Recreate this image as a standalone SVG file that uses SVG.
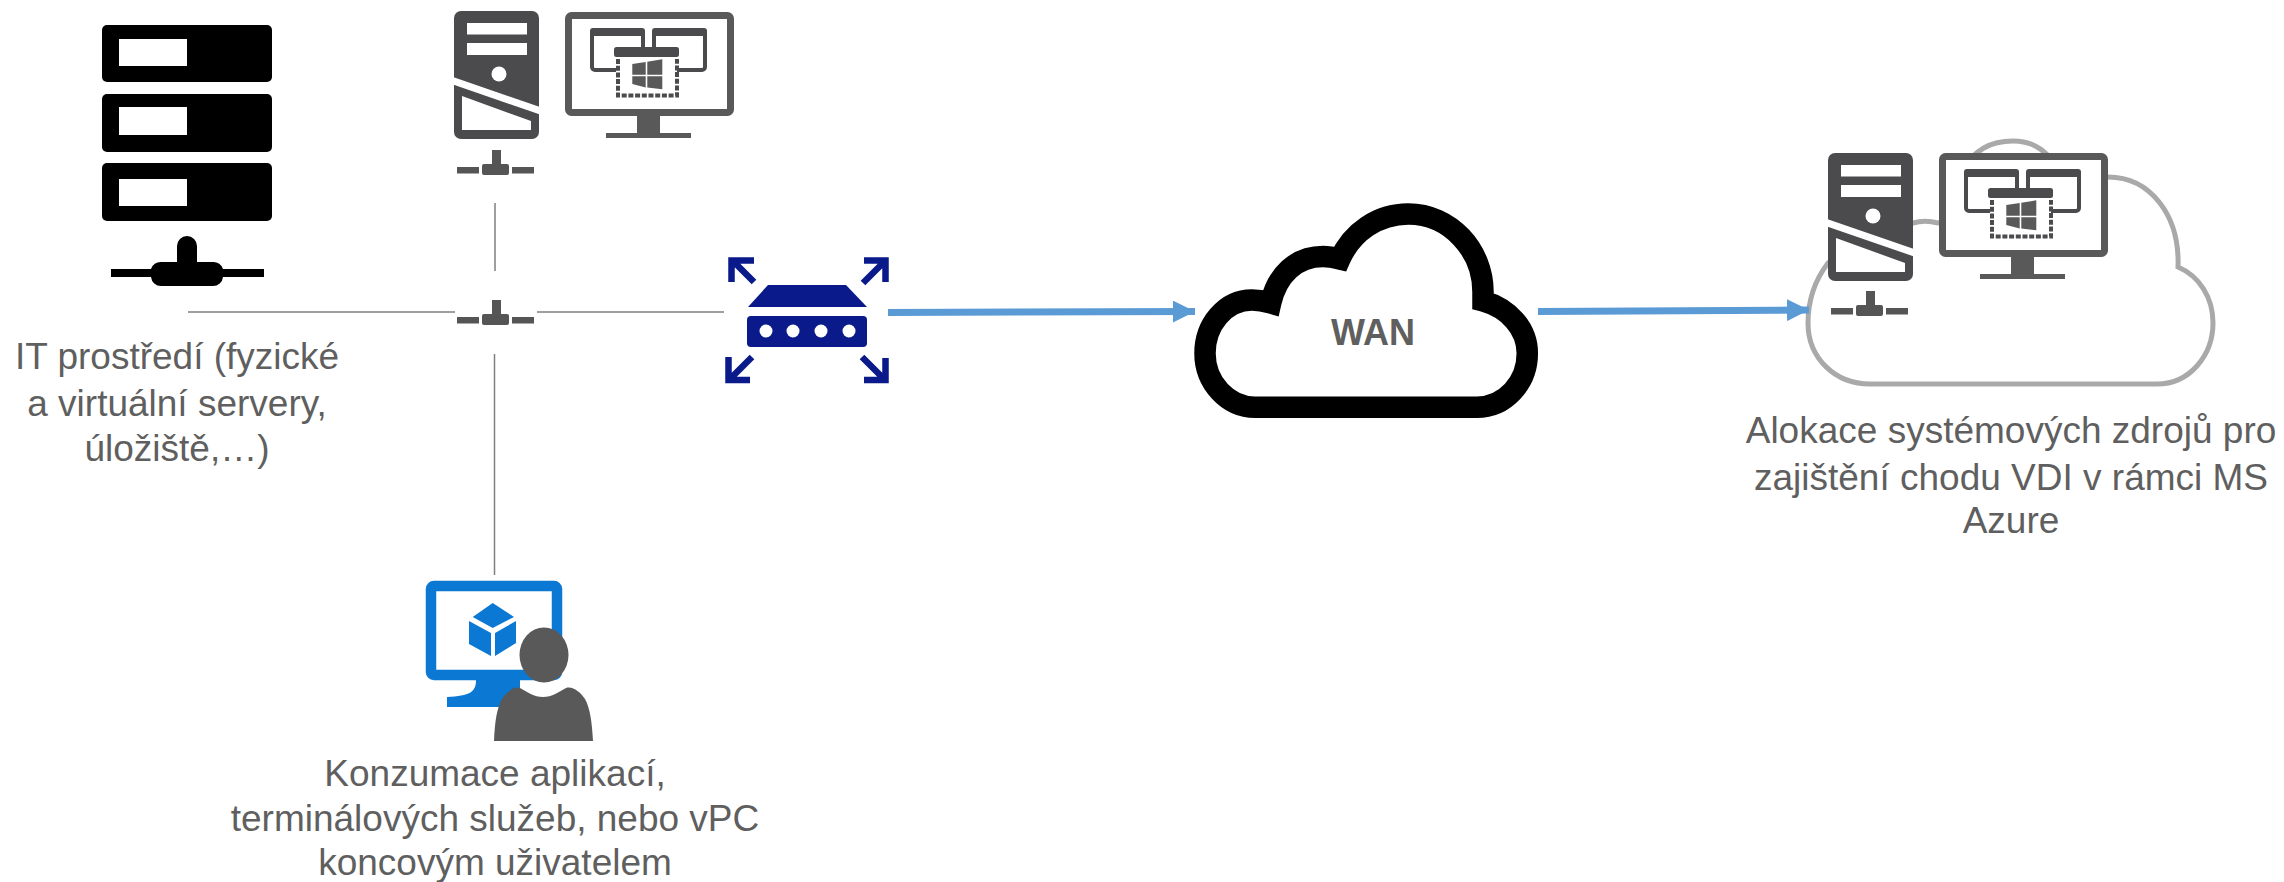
<svg xmlns="http://www.w3.org/2000/svg" width="2284" height="882" viewBox="0 0 2284 882">
<style>
text{font-family:"Liberation Sans",Arial,sans-serif;font-size:37px;fill:#5f5f5f;text-anchor:middle}
.wire{stroke:#7f7f7f;stroke-width:1.5;fill:none}
.blue{stroke:#5b9bd5;stroke-width:7;fill:none;marker-end:url(#ah)}
.rack{fill:#000}
.hole{fill:#fff}
.tw{fill:#4b4b4e}
.mon{fill:#595959}
.rt{fill:#0a1a8a}
.rta{stroke:#0a1a8a;stroke-width:6.5;fill:none}
.az{fill:#0b78d4}
</style>
<defs>
<marker id="ah" markerUnits="userSpaceOnUse" markerWidth="22" markerHeight="22" refX="22" refY="11" orient="auto"><path d="M0 0L22 11L0 22Z" fill="#5b9bd5"/></marker>
<filter id="soft" x="-10%" y="-10%" width="120%" height="120%"><feGaussianBlur stdDeviation="0.7"/></filter>
<g id="tee" filter="url(#soft)" fill="#555"><rect x="492" y="150" width="9" height="16"/><rect x="482" y="164" width="27" height="11" rx="2"/><rect x="457" y="167" width="22" height="6.5"/><rect x="512" y="167" width="22" height="6.5"/></g>
<g id="tower"><rect class="tw" x="454" y="11" width="85" height="128" rx="7"/><rect class="hole" x="467" y="23" width="60" height="11.5"/><rect class="hole" x="467" y="43" width="60" height="12"/><circle class="hole" cx="499" cy="74" r="7.5"/><path class="hole" d="M453 77L540 107V114.500L453 84.500Z"/><path class="hole" d="M462 96L531 121V130H462Z"/></g>
<g id="display"><rect x="568.500" y="15.500" width="162" height="97" rx="3" fill="#fff" stroke="#595959" stroke-width="7"/><rect class="mon" x="637" y="114" width="23" height="20"/><rect class="mon" x="606" y="133" width="85" height="5"/><rect x="592" y="30" width="51" height="40" rx="3" fill="#fff" stroke="#4b4b4e" stroke-width="4"/><rect x="654" y="30" width="51" height="40" rx="3" fill="#fff" stroke="#4b4b4e" stroke-width="4"/><rect class="tw" x="590" y="28" width="55" height="8" rx="3"/><rect class="tw" x="652" y="28" width="55" height="8" rx="3"/><rect x="616" y="56" width="61" height="41" fill="#fff"/><rect class="tw" x="614" y="47" width="65" height="10" rx="2.500"/><path d="M618 59V95.500H677V59" fill="none" stroke="#4b4b4e" stroke-width="4" stroke-dasharray="5 1.700"/><path class="mon" d="M632.300 64L645.700 62V74.700H632.300ZM647.300 61.700L662.300 59.300V74.700H647.300ZM632.300 76.300H645.700V87.500L632.300 84ZM647.300 76.300H662.300V89.300L647.300 87.500Z"/></g>
</defs>
<g id="it-servers">
<rect class="rack" x="102" y="25" width="170" height="57" rx="5"/><rect class="hole" x="119" y="39" width="68" height="27"/>
<rect class="rack" x="102" y="94" width="170" height="58" rx="5"/><rect class="hole" x="119" y="107" width="68" height="28"/>
<rect class="rack" x="102" y="163" width="170" height="58" rx="5"/><rect class="hole" x="119" y="179" width="68" height="27"/>
<path class="rack" d="M177 246a10 10 0 0 1 20 0V262H213a10 10 0 0 1 10 7H264V277H223a10 10 0 0 1-10 9H161a10 10 0 0 1-10-9H111V269H151a10 10 0 0 1 10-7H177Z"/>
<text x="177" y="369">IT prostředí (fyzické</text>
<text x="177" y="416">a virtuální servery,</text>
<text x="177" y="461">úložiště,…)</text>
</g>
<g id="onprem-vdi"><use href="#tower"/><use href="#display"/><use href="#tee"/></g>
<g id="switch-tee"><use href="#tee" y="150"/></g>
<g id="router">
<path class="rt" d="M768 285H846L867 307H748Z"/>
<rect class="rt" x="747" y="316" width="120" height="31" rx="4"/>
<circle class="hole" cx="766" cy="331" r="6.500"/><circle class="hole" cx="793" cy="331" r="6.500"/><circle class="hole" cx="821" cy="331" r="6.500"/><circle class="hole" cx="849" cy="331" r="6.500"/>
<path class="rta" d="M754 282L733 261M731.500 282V260.500H754"/>
<path class="rta" d="M863 283L884 262M864 260.500H885.500V282"/>
<path class="rta" d="M752 357L731 378M728.500 357V380H750"/>
<path class="rta" d="M862 357L883 378M885.500 358V380H864"/>
</g>
<g id="wan">
<path d="M1255 407.300H1476.700C1505 407.300 1527.300 383 1527.300 353.300C1527.300 328 1508 308 1483 301V292C1483 250 1450 214 1408.300 214C1378 214 1352 232 1340 259C1334 257.500 1329 256.500 1323 256.500C1296 256.500 1277 275 1270.700 303C1264 301 1258 300 1252 300C1225 300 1205 325 1205 353.300C1205 383 1228 407.300 1255 407.300Z" fill="#fff" stroke="#000" stroke-width="21.500"/>
<text x="1373" y="345" style="font-weight:bold;font-size:36px">WAN</text>
</g>
<g id="azure">
<path d="M1870 384H2157C2190 384 2213 355 2213 323C2213 297 2199 276 2178 267C2180 215 2150 177 2108 177H2062C2050 152 2035 141 2013 141C1990 141 1975 150 1962 170C1950 200 1945 223 1938 223C1930 221 1920 221 1913 223C1880 223 1860 240 1828 263C1815 280 1808 300 1808 323C1808 358 1835 384 1870 384Z" fill="#fff" stroke="#a9a9a9" stroke-width="5"/>
<use href="#tower" x="1374" y="142"/><use href="#display" x="1374" y="141"/><use href="#tee" x="1374" y="141"/>
<text x="2011" y="443">Alokace systémových zdrojů pro</text>
<text x="2011" y="490">zajištění chodu VDI v rámci MS</text>
<text x="2011" y="533">Azure</text>
</g>
<g id="end-user">
<rect x="431" y="586" width="126" height="89" rx="3" fill="#fff" stroke="#0b78d4" stroke-width="10.500"/>
<path class="az" d="M476 680C476 692 470 696 447 697V707H520V680Z"/>
<path class="az" d="M492.700 603L514 617L492.700 628L472.700 617ZM469 621L491 633V656L469 644ZM495 633L516 621V643L495 656Z"/>
<ellipse cx="544" cy="655" rx="24.500" ry="27.500" fill="#595959"/>
<path d="M494 741C495 720 497 708 502 699C507 692 514 686 520 688C527 692 534 697 543 697C552 697 559 692 566 688C573 686 580 692 585 699C590 708 592 722 593 741Z" fill="#595959"/>
<text x="495" y="786">Konzumace aplikací,</text>
<text x="495" y="831">terminálových služeb, nebo vPC</text>
<text x="495" y="875">koncovým uživatelem</text>
</g>
<g id="connectors">
<path class="wire" d="M495 203V271"/>
<path class="wire" d="M188 312H455"/>
<path class="wire" d="M537 312H724"/>
<path class="wire" d="M494.500 354V575"/>
<path class="blue" d="M888 312.500L1195 311.500"/>
<path class="blue" d="M1538 311.500L1809 310"/>
</g>
</svg>
